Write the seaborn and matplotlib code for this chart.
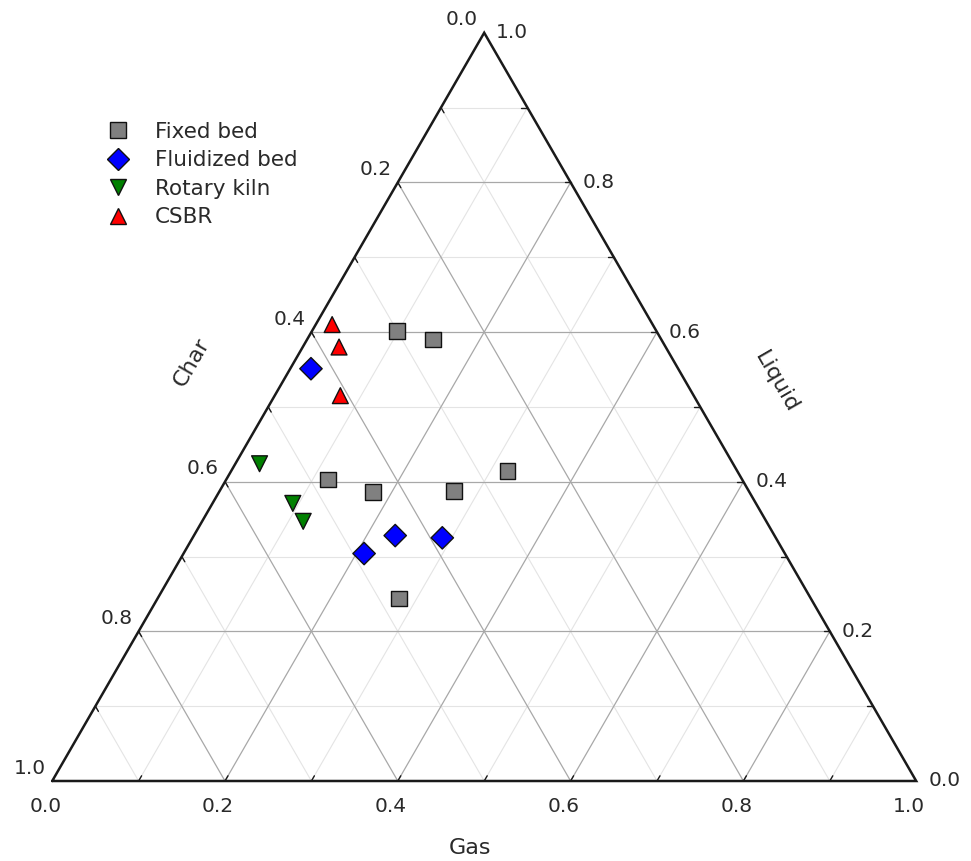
import numpy as np
import pandas as pd
import matplotlib
matplotlib.use("Agg")
import matplotlib.pyplot as plt
import seaborn as sns

# ---------------- data (ternary fractions) ----------------
reactors = ["Fixed bed", "Fluidized bed", "Rotary kiln", "CSBR"]

fixed_gas = [0.099, 0.146, 0.118, 0.178, 0.271, 0.320, 0.279]
fixed_liquid = [0.601, 0.590, 0.403, 0.386, 0.388, 0.414, 0.244]
fixed_char = [0.300, 0.264, 0.479, 0.436, 0.341, 0.266, 0.477]

fluid_gas = [0.024, 0.233, 0.289, 0.209]
fluid_liquid = [0.551, 0.328, 0.325, 0.304]
fluid_char = [0.425, 0.439, 0.386, 0.487]

kiln_gas = [0.028, 0.093, 0.117]
kiln_liquid = [0.424, 0.371, 0.347]
kiln_char = [0.548, 0.536, 0.536]

csbr_gas = [0.019, 0.042, 0.076]
csbr_liquid = [0.610, 0.580, 0.515]
csbr_char = [0.371, 0.378, 0.409]

tick_values = [0.0, 0.2, 0.4, 0.6, 0.8, 1.0]
tick_labels = ["0.0", "0.2", "0.4", "0.6", "0.8", "1.0"]
minor_values = [0.1, 0.3, 0.5, 0.7, 0.9]

colors = {"Fixed bed": "#808080", "Fluidized bed": "#0000ff",
          "Rotary kiln": "#008000", "CSBR": "#ff0000"}
markers = {"Fixed bed": "s", "Fluidized bed": "D",
           "Rotary kiln": "v", "CSBR": "^"}

# ---------------- build table ----------------
rows = []
for name, g, l, c in [("Fixed bed", fixed_gas, fixed_liquid, fixed_char),
                      ("Fluidized bed", fluid_gas, fluid_liquid, fluid_char),
                      ("Rotary kiln", kiln_gas, kiln_liquid, kiln_char),
                      ("CSBR", csbr_gas, csbr_liquid, csbr_char)]:
    for gi, li, ci in zip(g, l, c):
        rows.append({"reactor": name, "gas": gi, "liquid": li, "char": ci})
df = pd.DataFrame(rows)

S3 = np.sqrt(3) / 2


def tern(g, l):
    g = np.asarray(g, float)
    l = np.asarray(l, float)
    return g + l / 2, l * S3


df["x"], df["y"] = tern(df["gas"], df["liquid"])

# ---------------- figure ----------------
sns.set_theme(style="white")
plt.rcParams["font.family"] = ["DejaVu Sans"]

W, H = 971, 861
fig = plt.figure(figsize=(W / 100, H / 100), dpi=100)
ax = fig.add_axes([0, 0, 1, 1])
scale = 864.0
x0, yb = 52.2, 781.0
ax.set_xlim(-x0 / scale, (W - x0) / scale)
ax.set_ylim((yb - H) / scale, yb / scale)
ax.set_axis_off()

px = 1.0 / scale  # one pixel in data units
txt_col = "#2a2a2a"


def P(xp, yp):
    """pixel position -> data coords (for text placement only)"""
    return (xp - x0) / scale, (yb - yp) / scale


# grid lines
def gridline(v, **kw):
    xa, ya = tern([0, 1 - v], [v, v])        # liquid = v
    ax.plot(xa, ya, **kw)
    xa, ya = tern([v, v], [0, 1 - v])        # gas = v
    ax.plot(xa, ya, **kw)
    xa, ya = tern([0, 1 - v], [1 - v, 0])    # char = v
    ax.plot(xa, ya, **kw)


for v in minor_values:
    gridline(v, color="#e4e4e4", lw=0.8, zorder=1)
for v in tick_values[1:-1]:
    gridline(v, color="#a8a8a8", lw=0.9, zorder=1)

# triangle outline
xa, ya = tern([0, 1, 0, 0], [0, 0, 1, 0])
ax.plot(xa, ya, color="#1a1a1a", lw=1.8, zorder=2, solid_joinstyle="miter")

# small ticks
tl = 6 * px
for v in np.arange(1, 10) / 10:
    bx, by = tern(v, 0)
    ax.plot([bx, bx + tl * 0.5], [by, by + tl * S3], color="#1a1a1a", lw=1.0, zorder=2)
    rx, ry = tern(1 - v, v)
    ax.plot([rx, rx - tl], [ry, ry], color="#1a1a1a", lw=1.0, zorder=2)
    lx, ly = tern(0, 1 - v)
    ax.plot([lx, lx + tl * 0.5], [ly, ly - tl * S3], color="#1a1a1a", lw=1.0, zorder=2)

# tick labels
fs = 14.5
for v, lab in zip(tick_values, tick_labels):
    bx, by = tern(v, 0)
    ax.text(bx - 7 * px, by - 26 * px, lab, ha="center", va="center", fontsize=fs, color=txt_col)
    rx, ry = tern(1 - v, v)
    ax.text(rx + 12 * px, ry, lab, ha="left", va="center", fontsize=fs, color=txt_col)
    lx, ly = tern(0, 1 - v)
    ax.text(lx - 6 * px, ly + 13 * px, lab, ha="right", va="center", fontsize=fs, color=txt_col)

# axis titles
tfs = 16
ax.text(*P(470, 848), "Gas", ha="center", va="center", fontsize=tfs, color=txt_col)
ax.text(*P(776, 382), "Liquid", ha="center", va="center", rotation=-60,
        fontsize=tfs, color=txt_col, rotation_mode="anchor")
ax.text(*P(192, 362), "Char", ha="center", va="center", rotation=60,
        fontsize=tfs, color=txt_col, rotation_mode="anchor")

# points
sns.scatterplot(data=df, x="x", y="y", hue="reactor", style="reactor",
                hue_order=reactors, style_order=reactors,
                palette=colors, markers=markers, s=130,
                edgecolor="#111111", linewidth=1.0, ax=ax, zorder=5, legend="full")

handles, labels = ax.get_legend_handles_labels()
pairs = [(h, l) for h, l in zip(handles, labels) if l in reactors]
for h, _ in pairs:
    try:
        h.set_markeredgecolor("#111111")
        h.set_markeredgewidth(1.0)
        h.set_markersize(11)
    except Exception:
        pass
lfs = 15.5
ax.legend([p[0] for p in pairs], [p[1] for p in pairs],
          loc="upper left", bbox_to_anchor=(107 / W, 1 - 122 / H),
          frameon=False, fontsize=lfs, handlelength=1.0, handletextpad=1.22,
          borderpad=0, borderaxespad=0, labelspacing=0.39,
          labelcolor=txt_col)

fig.savefig("out.png", dpi=100)
